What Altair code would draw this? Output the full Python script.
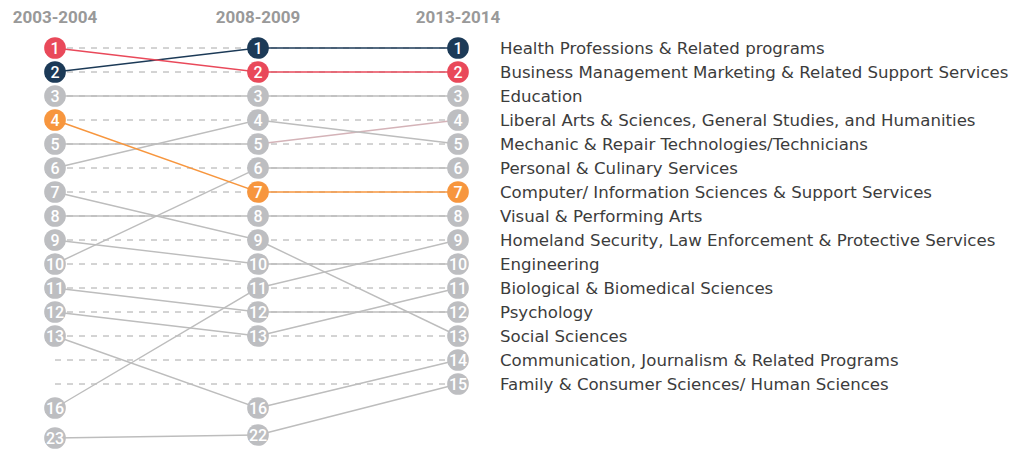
import altair as alt
import pandas as pd

categories = [
    "Health Professions & Related programs",
    "Business Management Marketing & Related Support Services",
    "Education",
    "Liberal Arts & Sciences, General Studies, and Humanities",
    "Mechanic & Repair Technologies/Technicians",
    "Personal & Culinary Services",
    "Computer/ Information Sciences & Support Services",
    "Visual & Performing Arts",
    "Homeland Security, Law Enforcement & Protective Services",
    "Engineering",
    "Biological & Biomedical Sciences",
    "Psychology",
    "Social Sciences",
    "Communication, Journalism & Related Programs",
    "Family & Consumer Sciences/ Human Sciences",
]
rank_2003 = [2, 1, 3, 5, 6, 10, 4, 8, 16, 9, 12, 11, 7, 13, 23]
rank_2008 = [1, 2, 3, 5, 4, 6, 7, 8, 11, 10, 13, 12, 9, 16, 22]
rank_2013 = [1, 2, 3, 4, 5, 6, 7, 8, 9, 10, 11, 12, 13, 14, 15]
periods = ["2003-2004", "2008-2009", "2013-2014"]

NAVY = "#1c3a57"
RED = "#e9495a"
ORANGE = "#f7963e"
GRAY = "#bdbec1"
LINEGRAY = "#bdbdbd"
cat_color = {categories[0]: NAVY, categories[1]: RED, categories[6]: ORANGE}
seg_override = {(categories[3], 1): "#d4b3b8"}

ranks = [rank_2003, rank_2008, rank_2013]

points, segs = [], []
for i, c in enumerate(categories):
    col = cat_color.get(c, GRAY)
    for p in range(3):
        points.append({"cat": c, "col": p, "rank": ranks[p][i], "color": col,
                       "z": 1 if c in cat_color else 0})
    for p in range(2):
        lc = seg_override.get((c, p), cat_color.get(c, LINEGRAY))
        segs.append({"cat": c, "col": p, "col2": p + 1, "rank": ranks[p][i],
                     "rank2": ranks[p + 1][i], "color": lc,
                     "z": 1 if c in cat_color else 0})

pts = pd.DataFrame(points).sort_values("z")
sg = pd.DataFrame(segs).sort_values("z")
dash = pd.DataFrame({"rank": list(range(1, 16)), "col": 0, "col2": 2})
labels = pd.DataFrame({"cat": categories, "rank": rank_2013, "col": 3})
heads = pd.DataFrame({"period": periods, "col": [0, 1, 2]})

xs = alt.Scale(domain=[0, 1, 2, 3], range=[47, 250, 450, 492])
ys = alt.Scale(domain=[1, 16, 22, 23], range=[40, 400, 427, 430])
X = lambda f: alt.X(f, type="quantitative", scale=xs, axis=None)
Y = lambda f: alt.Y(f, type="quantitative", scale=ys, axis=None)

dashed = alt.Chart(dash).mark_rule(color="#a8a8a8", strokeWidth=1, strokeDash=[6, 6]).encode(
    x=X("col"), x2="col2", y=Y("rank"))

lines = alt.Chart(sg).mark_rule(strokeWidth=1.4).encode(
    x=X("col"), x2="col2", y=Y("rank"), y2="rank2",
    color=alt.Color("color:N", scale=None), order="z:Q")

circles = alt.Chart(pts).mark_circle(size=470, opacity=1).encode(
    x=X("col"), y=Y("rank"), color=alt.Color("color:N", scale=None))

nums = alt.Chart(pts).mark_text(color="white", font="Roboto", fontSize=16, fontWeight=500,
                                baseline="middle", dy=1).encode(
    x=X("col"), y=Y("rank"), text="rank:Q")

labs = alt.Chart(labels).mark_text(align="left", baseline="middle", font="DejaVu Sans", fontSize=16.6,
                                   color="#3c3c3c", dy=1).encode(
    x=X("col"), y=Y("rank"), text="cat:N")

hd = alt.Chart(heads).mark_text(align="center", baseline="middle", font="Roboto", fontSize=17,
                                fontWeight="bold", color="#999999").encode(
    x=X("col"), y=alt.value(10), text="period:N")

chart = alt.layer(dashed, lines, circles, nums, labs, hd).properties(
    width=1002, height=442, padding=0,
    autosize=alt.AutoSizeParams(type="none")
).configure_view(stroke=None)

chart.save("out.html", embed_options={"renderer": "svg", "actions": False})
